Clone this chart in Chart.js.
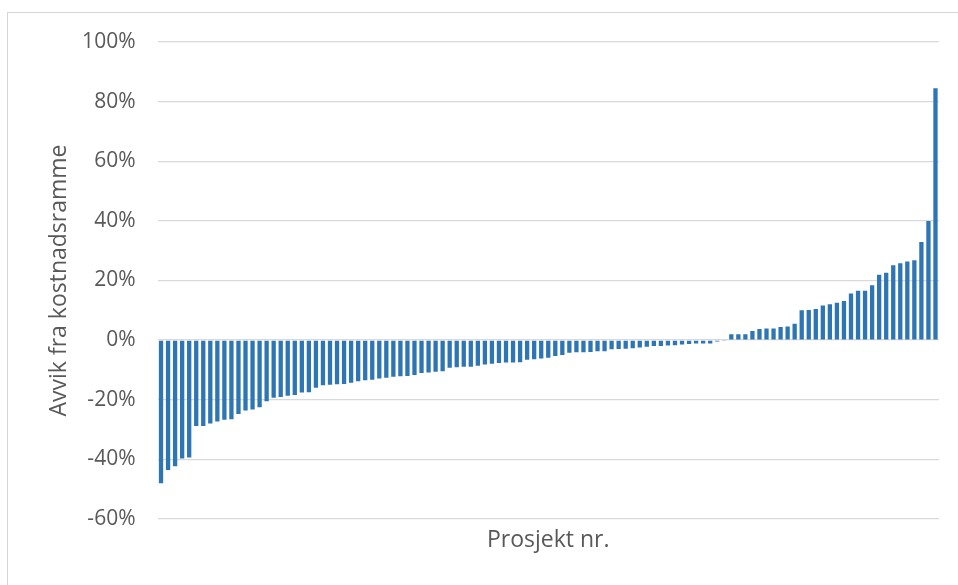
<!DOCTYPE html>
<html>
<head>
<meta charset="utf-8">
<script src="https://cdn.jsdelivr.net/npm/chart.js@4"></script>
<style>
  html, body { margin: 0; padding: 0; background: #fff; }
  #wrap { position: relative; width: 958px; height: 585px; overflow: hidden; }
  #frame {
    position: absolute; left: 7px; top: 12px; width: 960px; height: 580px;
    border-left: 1px solid #d6d6d6; border-top: 1px solid #d6d6d6;
    pointer-events: none;
  }
  canvas { position: absolute; left: 0; top: 0; }
</style>
</head>
<body>
<div id="wrap">
  <canvas id="chart" width="958" height="585"></canvas>
  <div id="frame"></div>
</div>
<script>
// Avvik fra kostnadsramme per prosjekt, sortert stigende (prosent)
const avvik = [
  -48.0, -43.6, -42.3, -39.7, -39.4, -28.8, -28.8, -28.0, -27.3, -26.7,
  -26.5, -24.8, -23.6, -23.3, -22.5, -20.5, -19.3, -19.1, -18.7, -18.4,
  -17.6, -17.5, -16.0, -15.1, -15.0, -14.8, -14.7, -14.3, -13.8, -13.5,
  -13.3, -12.9, -12.6, -12.3, -12.1, -12.0, -11.7, -11.0, -10.9, -10.6,
  -10.4, -9.3, -9.1, -8.9, -8.9, -8.6, -8.2, -7.9, -7.7, -7.5,
  -7.5, -7.4, -6.6, -6.4, -6.2, -5.9, -5.3, -5.0, -4.2, -4.1,
  -4.1, -4.0, -3.7, -3.7, -3.1, -3.0, -2.9, -2.7, -2.5, -2.2,
  -2.0, -2.0, -1.8, -1.7, -1.5, -1.3, -1.1, -1.1, -1.1, -0.5,
  -0.3, 2.0, 2.0, 2.0, 3.1, 3.7, 3.9, 3.9, 4.4, 4.6,
  5.5, 10.0, 10.1, 10.4, 11.6, 12.0, 12.5, 13.1, 15.6, 16.6,
  16.6, 18.4, 21.9, 22.6, 25.1, 25.8, 26.4, 26.8, 32.9, 40.0,
  84.5
];
// Prosjekt nr. (vises ikke som etiketter)
const prosjekter = avvik.map((_, i) => String(i + 1));

const yMin = -60;
const yMax = 100;
const yStep = 20;
const yTitle = 'Avvik fra kostnadsramme';
const xTitle = 'Prosjekt nr.';

const textColor = '#595959';
const font = "'Open Sans', sans-serif";

new Chart(document.getElementById('chart'), {
  type: 'bar',
  data: {
    labels: prosjekter,
    datasets: [{
      data: avvik,
      backgroundColor: '#2e75b6',
      borderWidth: 0,
      barPercentage: 0.61,
      categoryPercentage: 1.0
    }]
  },
  options: {
    responsive: false,
    animation: false,
    devicePixelRatio: 1,
    layout: { padding: { top: 42, right: 19, bottom: 0, left: 0 } },
    plugins: { legend: { display: false }, tooltip: { enabled: false } },
    scales: {
      x: {
        ticks: { display: false },
        grid: { display: false, drawTicks: false },
        border: { display: false },
        title: {
          display: true, text: xTitle, color: textColor,
          font: { family: font, size: 23 },
          padding: { top: 0, bottom: 31 }
        },
        afterFit: (s) => { s.height = 66; }
      },
      y: {
        min: yMin,
        max: yMax,
        ticks: {
          stepSize: yStep,
          color: textColor,
          padding: 22,
          font: { family: font, size: 21 },
          callback: (v) => v + '%'
        },
        grid: { color: '#d9d9d9', lineWidth: 1.3, drawTicks: false },
        border: { display: false },
        title: {
          display: true, text: yTitle, color: textColor,
          font: { family: font, size: 23 },
          padding: { top: 46, bottom: 0 }
        },
        afterFit: (s) => { s.width = 157.5; }
      }
    }
  }
});
</script>
</body>
</html>
